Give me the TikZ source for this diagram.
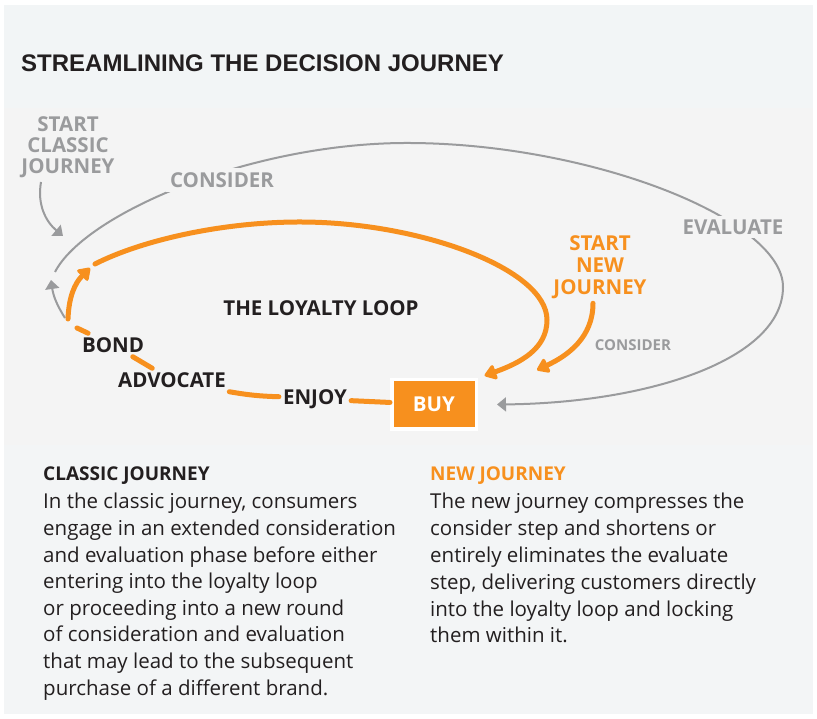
\documentclass[tikz,border=0pt]{standalone}
\usepackage{fontspec}
\setmainfont{Open Sans}
\newfontfamily\titlefont{Liberation Sans}
\usetikzlibrary{arrows.meta,positioning,calc}
\definecolor{hbrorange}{HTML}{F7901E}
\definecolor{hbrgray}{HTML}{9A9B9D}
\definecolor{hbrink}{HTML}{231F20}
\definecolor{bandtop}{HTML}{F2F5F6}
\definecolor{bandmid}{HTML}{F4F4F4}
\definecolor{bandlow}{HTML}{F3F5F6}

\begin{document}
\begin{tikzpicture}[x=1pt,y=1pt]

    \tikzstyle{steplabel}=[font=\bfseries\fontsize{20.5}{21}\selectfont,text=hbrink,fill=bandmid,inner sep=4pt,align=center]
    \tikzstyle{graylabel}=[steplabel,text=hbrgray]
    \tikzstyle{grayline}=[hbrgray,line width=2pt,-{Triangle[length=9pt,width=14pt]}]
    \tikzstyle{orangeline}=[hbrorange,line width=5pt,line cap=round]
    \tikzstyle{orangearrow}=[orangeline,-{Triangle[length=13pt,width=17pt,round]}]
    \tikzstyle{headtext}=[anchor=base west,inner sep=0pt,font=\bfseries\fontsize{19}{19}\selectfont]
    \tikzstyle{bodytext}=[anchor=base west,inner sep=0pt,font=\fontsize{20.5}{20.5}\selectfont,text=hbrink]

\useasboundingbox (0,0) rectangle (817,719);
\fill[white] (0,0) rectangle (817,719);
\fill[bandtop] (4,611) rectangle (813,714);
\fill[bandmid] (4,274) rectangle (813,611);
\fill[bandlow] (4,5) rectangle (813,274);

\node (title) [anchor=base west,inner sep=0pt,text=hbrink,font=\titlefont\bfseries\fontsize{24}{24}\selectfont] at (21,647) {STREAMLINING THE DECISION JOURNEY};

\node (buy) [fill=hbrorange,draw=white,line width=3.5pt,minimum width=84.5pt,minimum height=49.5pt,text=white,font=\bfseries\fontsize{20.5}{20.5}\selectfont] at (434,314.5) {BUY};

\coordinate (classicfrom) at (41,537);
\coordinate (classictip) at (63,483);
\coordinate (classicin) at (55,447);
\coordinate (grayexit) at (65,401);
\coordinate (graytip) at (51,439);
\coordinate (chainend) at (77,391);
\coordinate (risefoot) at (68,400);
\coordinate (risetip) at (90,451);
\coordinate (loophead) at (95,455);
\coordinate (newtip) at (537,349);

% classic journey: consider, evaluate, back to buy
\draw[grayline] (classicin) .. controls (85,505) and (250,576) .. (407,576) .. controls (590,576) and (783,500) .. (783,432) .. controls (783,360) and (650,316) .. ([xshift=19pt]buy.east);

\node (startclassic) [graylabel,fill=none] at (68,572) {START\\CLASSIC\\JOURNEY};
\node (considerA) [graylabel] at (222,539) {CONSIDER};
\node (evaluate) [graylabel] at (733,492) {EVALUATE};
\node (startnew) [steplabel,fill=none,text=hbrorange,font=\bfseries\fontsize{20.5}{22}\selectfont] at (600,451.5) {START\\NEW\\JOURNEY};
\node (considerB) [graylabel,fill=none,font=\bfseries\fontsize{15}{15}\selectfont] at (633,374) {CONSIDER};
\node (loyalty) [steplabel] at (321,411) {THE LOYALTY LOOP};
\node (bond) [steplabel] at (113,374) {BOND};
\node (advocate) [steplabel] at (172,339) {ADVOCATE};
\node (enjoy) [steplabel] at (315,320) {ENJOY};

\draw[grayline] (classicfrom) to[out=-100,in=140] (classictip);
\draw[grayline] (grayexit) to[bend left=12] (graytip);

% the loyalty loop
\draw[orangeline] (buy) -- (enjoy) (enjoy) to[bend left=4] (advocate) (advocate) -- (bond) (bond) -- (chainend);
\draw[orangearrow] (risefoot) to[out=88,in=225] (risetip);
\draw[orangearrow,shorten >=7pt] (loophead) .. controls (140,478) and (220,497) .. (300,497) .. controls (420,497) and (547,450) .. (547,399) .. controls (547,370) and (520,356) .. (buy.north east);
\draw[orangearrow] ([xshift=-7pt]startnew.south) to[out=-90,in=25] (newtip);

\node (classichead) [headtext,text=hbrink] at (43,238) {CLASSIC JOURNEY};
\foreach \txt [count=\i] in {{In the classic journey, consumers},{engage in an extended consideration},{and evaluation phase before either},{entering into the loyalty loop},{or proceeding into a new round},{of consideration and evaluation},{that may lead to the subsequent},{purchase of a different brand.}}
    \node (classic\i) [bodytext] at (43,{210-26.6*(\i-1)}) {\txt};

\node (newhead) [headtext,text=hbrorange] at (430,238) {NEW JOURNEY};
\foreach \txt [count=\i] in {{The new journey compresses the},{consider step and shortens or},{entirely eliminates the evaluate},{step, delivering customers directly},{into the loyalty loop and locking},{them within it.}}
    \node (new\i) [bodytext] at (430,{210-26.8*(\i-1)}) {\txt};

\end{tikzpicture}
\end{document}
